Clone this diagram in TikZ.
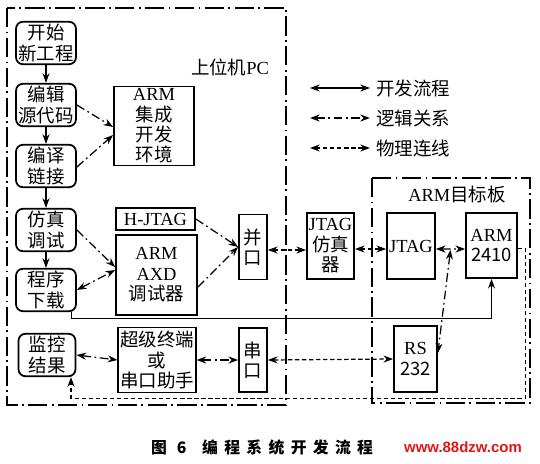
\documentclass[tikz,border=0pt]{standalone}
\usepackage{fontspec}
\setmainfont{Liberation Serif}
\newfontfamily\cjk{Noto Sans CJK SC}
\newfontfamily\capfont[LetterSpace=40]{Noto Sans CJK SC}
\newfontfamily\webfont{Liberation Sans}
\usetikzlibrary{arrows.meta, positioning, calc}
\definecolor{webred}{RGB}{225,20,20}

\tikzset{
    every node/.style={font=\fontsize{10.5}{11.6}\selectfont\cjk},
    flowbox/.style={draw, line width=1pt, rounded corners=4pt, align=center,
        inner sep=1pt, minimum width=1.2cm, minimum height=0.85cm},
    unitbox/.style={draw, line width=1pt, align=center, inner sep=1pt},
    frame/.style={line width=0.9pt, dash pattern=on 11pt off 2.5pt on 1pt off 2.5pt},
    flow/.style={line width=0.7pt, ->},
    logic/.style={line width=0.7pt, dash pattern=on 5pt off 2pt on 1pt off 2pt},
    wire/.style={line width=0.7pt, dash pattern=on 2.5pt off 1.5pt},
    >={Stealth[length=5.5pt,width=4pt]}
}

\begin{document}
\begin{tikzpicture}[x=0.02cm, y=-0.02cm]
    \useasboundingbox (0,0) rectangle (540,463);

    % Frames
    \draw[frame] (7,8) rectangle (286,405);
    \draw[frame] (372,178) rectangle (530,403);
    \node (pclabel) at (230,67) {上位机{\rmfamily PC}};
    \node (boardlabel) at (457,195) {{\rmfamily ARM}目标板};

    % Flow column
    \node[flowbox] (start) at (46,43) {开始\\新工程};
    \node[flowbox] (edit) at (46,105) {编辑\\源代码};
    \node[flowbox] (compile) at (46,166) {编译\\链接};
    \node[flowbox] (sim) at (46,230) {仿真\\调试};
    \node[flowbox] (download) at (46,290) {程序\\下载};
    \node[flowbox, minimum width=1.14cm] (monitor) at (47,355) {监控\\结果};

    % PC software
    \node[unitbox, minimum width=1.6cm, minimum height=1.58cm] (ide) at (154,126) {{\rmfamily ARM}\\集成\\开发\\环境};
    \node[unitbox, minimum width=1.58cm, minimum height=0.44cm] (hjtag) at (155.5,219) {\rmfamily H-JTAG};
    \node[unitbox, minimum width=1.62cm, minimum height=1.6cm] (axd) at (156.5,275) {{\rmfamily ARM}\\{\rmfamily AXD}\\调试器};
    \node[unitbox, minimum width=1.52cm, minimum height=1.3cm] (term) at (157,360) {超级终端\\或\\串口助手};
    \node[unitbox, minimum width=0.56cm, minimum height=1.3cm] (lpt) at (253,247) {并\\口};
    \node[unitbox, minimum width=0.56cm, minimum height=1.28cm] (com) at (253,360) {串\\口};

    % Hardware
    \node[unitbox, minimum width=0.94cm, minimum height=1.32cm] (emu) at (330.5,246) {{\rmfamily JTAG}\\仿真\\器};
    \node[unitbox, minimum width=0.96cm, minimum height=1.32cm] (jtag) at (411,246) {\rmfamily JTAG};
    \node[unitbox, minimum width=1.02cm, minimum height=1.3cm] (arm) at (491.5,245.5) {\rmfamily ARM\\2410};
    \node[unitbox, minimum width=0.86cm, minimum height=1.32cm] (rs) at (415.5,359) {\rmfamily RS\\232};

    % Legend
    \coordinate (la) at (310,88);  \coordinate (lb) at (370,88);
    \coordinate (lc) at (310,118); \coordinate (ld) at (370,118);
    \coordinate (le) at (310,148); \coordinate (lf) at (370,148);
    \draw[flow, <->] (la) -- (lb);
    \draw[logic, <->] (lc) -- (ld);
    \draw[wire, <->] (le) -- (lf);
    \node[right] (legflow) at (lb) {开发流程};
    \node[right] (leglogic) at (ld) {逻辑关系};
    \node[right] (legwire) at (lf) {物理连线};

    % Development flow
    \draw[flow] (start) -- (edit);
    \draw[flow] (edit) -- (compile);
    \draw[flow] (compile) -- (sim);
    \draw[flow] (sim) -- (download);
    \draw[flow] ($(download.south east)+(-5,0)$) -- ++(0,6) -| (arm.south);

    % Logical relations
    \draw[logic, ->] (edit.east) -- ($(ide.west)+(0,1)$);
    \draw[logic, ->] ($(compile.east)+(0,1)$) -- ($(ide.west)+(0,9)$);
    \draw[logic, ->] (sim.east) -- ($(axd.west)+(0,-8)$);
    \draw[logic, <->] (download.east) -- ($(axd.west)+(0,-5)$);
    \draw[logic, ->] (hjtag.east) -- (lpt.west);
    \draw[logic, ->] ($(axd.east)+(0,12)$) -- (lpt.west);
    \draw[logic, <->] (monitor.east) -- (term.west);
    \draw[logic, <->] (term.east) -- (com.west);
    \draw[logic, <->] ($(jtag.east)+(0,3)$) -- ($(arm.west)+(0,3.5)$);
    \coordinate (tap) at ($(jtag.east)!0.5!(arm.west)+(0,4)$);
    \draw[logic, <->] (tap) -- ($(rs.east)+(0,-6)$);

    % Physical connections
    \draw[wire, <->] ($(lpt.east)+(0,3)$) -- ($(emu.west)+(0,4)$);
    \draw[wire, <->] ($(emu.east)+(0,3)$) -- ($(jtag.west)+(0,3)$);
    \draw[wire, <->] (com.east) -- (rs.west);
    \draw[wire, ->] ($(arm.east)+(0,3)$) -- ++(8,0) |- ($(monitor.south)+(24,21)$) -- ($(monitor.south)+(24,0)$);

    % Caption
    \node (caption) at (262,447) {\fontsize{9}{10}\selectfont\capfont\bfseries 图 6\hspace{1em}编程系统开发流程};
    \node[text=webred] (site) at (463,447) {\fontsize{8.5}{10}\selectfont\webfont\bfseries www.88dzw.com};
\end{tikzpicture}
\end{document}
